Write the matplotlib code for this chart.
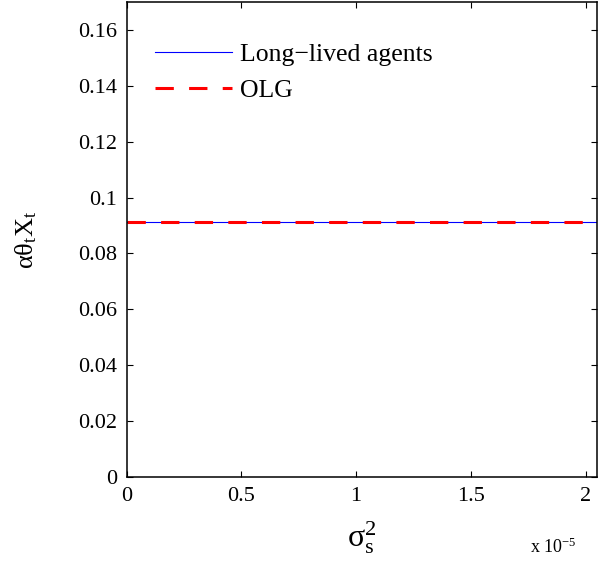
import numpy as np
import matplotlib
matplotlib.use('Agg')
import matplotlib.pyplot as plt

# Dane (oś x w jednostkach 1e-5)
sigma_s2 = [0.0, 0.5, 1.0, 1.5, 2.0, 2.05]
long_lived = [0.0912, 0.0912, 0.0912, 0.0912, 0.0912, 0.0912]
olg = [0.0911, 0.0911, 0.0911, 0.0911, 0.0911, 0.0911]

x_ticks = [0, 0.5, 1, 1.5, 2]
x_ticklabels = ['0', '0.5', '1', '1.5', '2']
y_ticks = [0, 0.02, 0.04, 0.06, 0.08, 0.1, 0.12, 0.14, 0.16]
y_ticklabels = ['0', '0.02', '0.04', '0.06', '0.08', '0.1', '0.12', '0.14', '0.16']

plt.rcParams['font.family'] = ['Liberation Serif', 'DejaVu Serif']
plt.rcParams['mathtext.fontset'] = 'stix'
plt.rcParams['mathtext.default'] = 'regular'

fig = plt.figure(figsize=(6.14, 5.61), dpi=100)
ax = fig.add_axes([126.5 / 614, 84 / 561, (597 - 126.5) / 614, (559 - 84) / 561])

ax.plot(sigma_s2, long_lived, color='#0000ff', lw=0.8, label='Long\u2212lived agents')
ax.plot(sigma_s2, olg, color='#ff0000', lw=2.2, dashes=(6, 5), label='OLG')

ax.set_xlim(0, 2.05)
ax.set_ylim(0, 0.17)
ax.set_xticks(x_ticks)
ax.set_xticklabels(x_ticklabels)
ax.set_yticks(y_ticks)
ax.set_yticklabels(y_ticklabels)

ax.tick_params(direction='in', length=4, width=0.8, top=True, right=True,
               labelsize=16, pad=7)
for s in ax.spines.values():
    s.set_linewidth(1.1)

# Etykiety osi
ax.set_ylabel(r'$\alpha\theta_t X_t$', fontsize=19, labelpad=28)
ax.set_xlabel(r'$\sigma_s^2$', fontsize=23, labelpad=10)

fig.text(530 / 614, 1 - 547 / 561, r'x 10$^{-5}$', fontsize=13, va='center', ha='left')

# Legenda
leg = ax.legend(loc='upper left', bbox_to_anchor=(0.039, 0.935), frameon=False,
                fontsize=18.5, handlelength=3.0, handletextpad=0.3,
                labelspacing=0.5, borderaxespad=0.0)

fig.savefig('out.png', dpi=100)
